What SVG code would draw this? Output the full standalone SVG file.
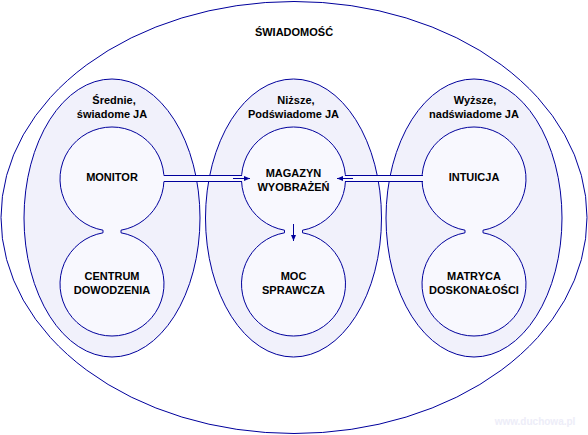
<svg xmlns="http://www.w3.org/2000/svg" width="588" height="435" viewBox="0 0 588 435">
<style>
.outer{fill:#ffffff;stroke:#00009c;stroke-width:1}
.grp{fill:#f1f1fb;stroke:#00009c;stroke-width:1}
.node{fill:#f8f8fe;stroke:#00009c;stroke-width:1}
.pipe{fill:#f8f8fe;stroke:none}
.pl{stroke:#00009c;stroke-width:1.2;fill:none}
.ar{stroke:#00009c;stroke-width:1;fill:none}
text{font-family:"Liberation Sans",Arial,sans-serif;font-weight:bold;font-size:11px;fill:#000;text-anchor:middle}
.wm{font-size:10px;fill:#ededf8}
</style>
<defs>
<marker id="ah" viewBox="0 0 6 6" refX="6" refY="3" markerWidth="6" markerHeight="6" markerUnits="userSpaceOnUse" orient="auto">
<path d="M0,0.5 L6,3 L0,5.5 Z" fill="#00009c"/>
</marker>
</defs>
<g id="swiadomosc">
<ellipse class="outer" cx="294" cy="217.5" rx="293" ry="216"/>
<text x="294" y="36">ŚWIADOMOŚĆ</text>
</g>
<g id="srednie">
<ellipse class="grp" cx="112" cy="218" rx="88" ry="139"/>
<text x="114" y="104">Średnie,</text>
<text x="112" y="118">świadome JA</text>
</g>
<g id="nizsze">
<ellipse class="grp" cx="293.5" cy="218" rx="88" ry="139"/>
<text x="296" y="104">Niższe,</text>
<text x="293.5" y="118">Podświadome JA</text>
</g>
<g id="wyzsze">
<ellipse class="grp" cx="474" cy="218" rx="88" ry="139"/>
<text x="475" y="104">Wyższe,</text>
<text x="474" y="118">nadświadome JA</text>
</g>
<g id="monitor-centrum">
<path class="node" d="M103,230.2 A52,52 0 1 1 121,230.2 L121,232.8 A52,52 0 1 1 103,232.8 Z"/>
<text x="112" y="181">MONITOR</text>
<text x="112" y="280">CENTRUM</text>
<text x="112" y="294">DOWODZENIA</text>
</g>
<g id="magazyn-moc">
<path class="node" d="M284.5,230.2 A52,52 0 1 1 302.5,230.2 L302.5,232.8 A52,52 0 1 1 284.5,232.8 Z"/>
<text x="293.5" y="177">MAGAZYN</text>
<text x="293.5" y="191">WYOBRAŻEŃ</text>
<text x="293.5" y="280">MOC</text>
<text x="293.5" y="294">SPRAWCZA</text>
</g>
<g id="intuicja-matryca">
<path class="node" d="M465,230.2 A52,52 0 1 1 483,230.2 L483,232.8 A52,52 0 1 1 465,232.8 Z"/>
<text x="474" y="181">INTUICJA</text>
<text x="474" y="280">MATRYCA</text>
<text x="474" y="294">DOSKONAŁOŚCI</text>
</g>
<g id="connectors">
<rect class="pipe" x="162" y="175.5" width="82" height="6"/>
<line class="pl" x1="164" y1="175.5" x2="242" y2="175.5"/>
<line class="pl" x1="164" y1="181.5" x2="242" y2="181.5"/>
<rect class="pipe" x="343" y="175.5" width="82" height="6"/>
<line class="pl" x1="345" y1="175.5" x2="423" y2="175.5"/>
<line class="pl" x1="345" y1="181.5" x2="423" y2="181.5"/>
<line class="ar" x1="233" y1="178.5" x2="250" y2="178.5" marker-end="url(#ah)"/>
<line class="ar" x1="353" y1="178.5" x2="337" y2="178.5" marker-end="url(#ah)"/>
<line class="ar" x1="293.5" y1="224" x2="293.5" y2="241" marker-end="url(#ah)"/>
</g>
<text class="wm" x="535" y="425">www.duchowa.pl</text>
</svg>
